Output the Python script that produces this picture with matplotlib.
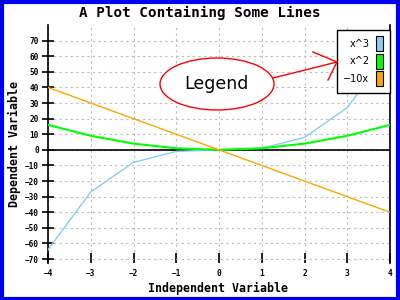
import matplotlib
matplotlib.use("Agg")
import matplotlib.pyplot as plt
from matplotlib.patches import Ellipse, Rectangle, Patch
from matplotlib.lines import Line2D

x_vals = [-4, -3, -2, -1, 0, 1, 2, 3, 4]
cube_vals = [-64, -27, -8, -1, 0, 1, 8, 27, 64]
square_vals = [16, 9, 4, 1, 0, 1, 4, 9, 16]
neg10x_vals = [40, 30, 20, 10, 0, -10, -20, -30, -40]
series_labels = ["x^3", "x^2", "\u221210x"]
series_colors = ["#87CEEB", "#00FF00", "#FFA500"]
y_ticks = list(range(-70, 71, 10))
x_ticks = [-4, -3, -2, -1, 0, 1, 2, 3, 4]

W, H = 400, 300
fig = plt.figure(figsize=(4, 3), dpi=100)
fig.patch.set_facecolor("white")

def fx(px):
    return px / W

def fy(py):
    return 1 - py / H

ax = fig.add_axes([fx(48), fy(263), fx(390) - fx(48), fy(25) - fy(263)])
ax.set_xlim(-4, 4)
ax.set_ylim(-72.5, 80)

for s in ["top", "bottom"]:
    ax.spines[s].set_visible(False)
for s in ["left", "right"]:
    ax.spines[s].set_linewidth(1.2)
    ax.spines[s].set_color("black")

ax.set_xticks(x_ticks)
ax.set_yticks(y_ticks)
ax.grid(True, color="#BBBBBB", linestyle=(0, (2, 3)), linewidth=0.8)
ax.set_axisbelow(True)
ax.axhline(0, color="black", linewidth=1.2, zorder=1.5)

mono = "DejaVu Sans Mono"
ax.tick_params(axis="y", direction="inout", length=9, width=1.2, labelsize=5.6, pad=2, right=False)
ax.tick_params(axis="x", direction="in", length=7, width=1.2, labelsize=5.6, pad=4)
for lab in ax.get_xticklabels() + ax.get_yticklabels():
    lab.set_fontfamily(mono)
    lab.set_fontweight("bold")

ax.plot(x_vals, cube_vals, color=series_colors[0], linewidth=1.0, zorder=3)
ax.plot(x_vals, square_vals, color=series_colors[1], linewidth=1.5, zorder=3)
ax.plot(x_vals, neg10x_vals, color=series_colors[2], linewidth=1.0, zorder=3)

fig.text(0.5, fy(13), "A Plot Containing Some Lines", ha="center", va="center",
         fontsize=10.3, fontfamily=mono, fontweight="bold")
fig.text(fx(218), fy(288), "Independent Variable", ha="center", va="center",
         fontsize=8.4, fontfamily=mono, fontweight="bold")
fig.text(fx(14), fy(144), "Dependent Variable", ha="center", va="center", rotation=90,
         fontsize=8.4, fontfamily=mono, fontweight="bold")

handles = [Patch(facecolor=c, edgecolor="black", linewidth=0.8) for c in series_colors]
leg = fig.legend(handles, series_labels, loc="upper left",
                 bbox_to_anchor=(fx(337), fy(30)), bbox_transform=fig.transFigure,
                 markerfirst=False, handlelength=0.72, handleheight=2.0,
                 handletextpad=0.7, labelspacing=0.25, borderpad=0.65,
                 borderaxespad=0, fancybox=False, edgecolor="black", framealpha=1,
                 prop={"size": 7})
leg.get_frame().set_linewidth(1.0)
for t in leg.get_texts():
    t.set_ha("right")

ell = Ellipse((fx(217), fy(84)), fx(114), 52 / H, transform=fig.transFigure,
              facecolor="white", edgecolor="red", linewidth=1.0, zorder=5)
fig.add_artist(ell)
fig.text(fx(216), fy(84), "Legend", ha="center", va="center", fontsize=12.5, zorder=6)

for (x0, y0, x1, y1) in [(273, 78, 337, 62), (313, 52, 337, 62), (328, 80, 337, 62)]:
    fig.add_artist(Line2D([fx(x0), fx(x1)], [fy(y0), fy(y1)], transform=fig.transFigure,
                          color="red", linewidth=1.0, zorder=6))

fig.add_artist(Rectangle((0.004, 0.005), 0.992, 0.99, transform=fig.transFigure,
                         fill=False, edgecolor="#0000EE", linewidth=3.0, zorder=10))

fig.savefig("out.png", dpi=100)
